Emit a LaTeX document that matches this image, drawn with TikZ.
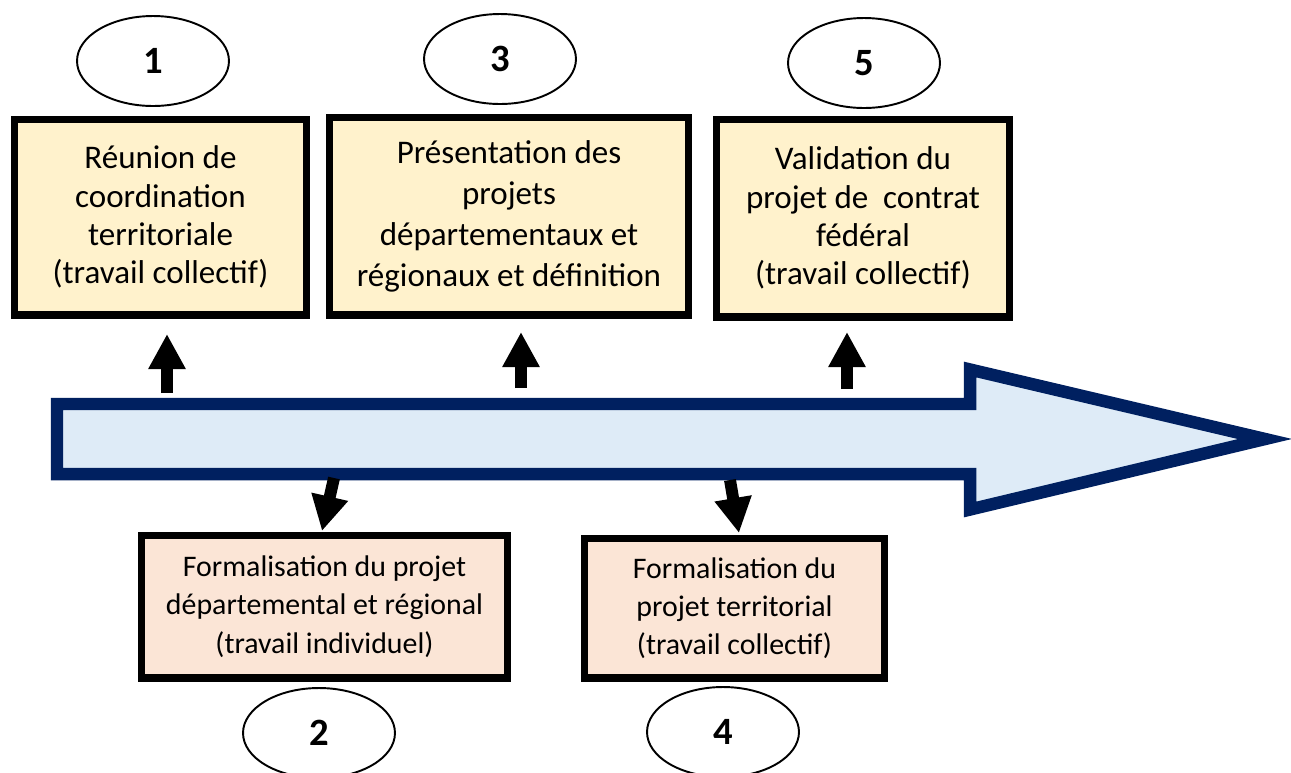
\documentclass[tikz,border=0pt]{standalone}
\usepackage{fontspec}
\setmainfont{Carlito}
\usetikzlibrary{arrows.meta,shapes.geometric}
\definecolor{StepYellow}{HTML}{FFF2CC}
\definecolor{StepPeach}{HTML}{FBE5D6}
\definecolor{TimeNavy}{HTML}{002060}
\definecolor{TimeBlue}{HTML}{DEEBF7}

\begin{document}
\begin{tikzpicture}[x=0.02cm,y=-0.02cm,
  topbox/.style={draw,line width=4pt,fill=StepYellow,align=center,inner sep=0pt,
    font=\fontsize{18.8}{21.8}\selectfont},
  botbox/.style={draw,line width=4pt,fill=StepPeach,align=center,inner sep=0pt,
    font=\fontsize{17}{21.8}\selectfont},
  num/.style={draw,ellipse,line width=1.1pt,minimum width=3.04cm,minimum height=1.8cm,
    inner sep=0pt,font=\fontsize{22}{26}\selectfont\bfseries},
  jump/.style={line width=6.8pt,-{Triangle[length=20pt,width=20pt]}}]
   \useasboundingbox (0,0) rectangle (1291,772);
   \draw[line width=7.1pt,draw=TimeNavy,fill=TimeBlue,line join=miter]
     (57,404) -- (970,404) -- (970,369.5) -- (1265,439) -- (970,509.5)
     -- (970,474) -- (57,474) -- cycle;
   \node[num] (n1) at (153,61) {1};
   \node[num] (n3) at (500,59) {3};
   \node[num] (n5) at (864,63) {5};
   \node[num] (n2) at (319,733) {2};
   \node[num] (n4) at (723,732) {4};
   \node[topbox,minimum width=5.86cm,minimum height=3.92cm] (b1) at (160.5,217)
     {Réunion de\\coordination\\territoriale\\(travail collectif)};
   \node[topbox,minimum width=7.2cm,minimum height=3.96cm,
     font=\fontsize{18.8}{23.3}\selectfont] (b3) at (509,216)
     {Présentation des\\projets\\départementaux et\\régionaux et définition};
   \node[topbox,minimum width=5.88cm,minimum height=3.96cm] (b5) at (863,218)
     {Validation du\\projet de~ contrat\\fédéral\\(travail collectif)};
   \node[botbox,minimum width=7.34cm,minimum height=2.86cm] (b2) at (324.5,606.5)
     {Formalisation du projet\\départemental et régional\\(travail individuel)};
   \node[botbox,minimum width=6.02cm,minimum height=2.8cm] (b4) at (734.5,608)
     {Formalisation du\\projet territorial\\(travail collectif)};
   \coordinate (s1) at (167,393); \coordinate (t1) at (167,334);
   \coordinate (s3) at (521,388); \coordinate (t3) at (521,332);
   \coordinate (s5) at (847,389); \coordinate (t5) at (847,332);
   \coordinate (s2) at (334,478); \coordinate (t2) at (322,531);
   \coordinate (s4) at (730,480); \coordinate (t4) at (739,533);
   \foreach \i in {1,3,5,2,4}
     \draw[jump] (s\i) -- (t\i);
  \end{tikzpicture}
\end{document}
